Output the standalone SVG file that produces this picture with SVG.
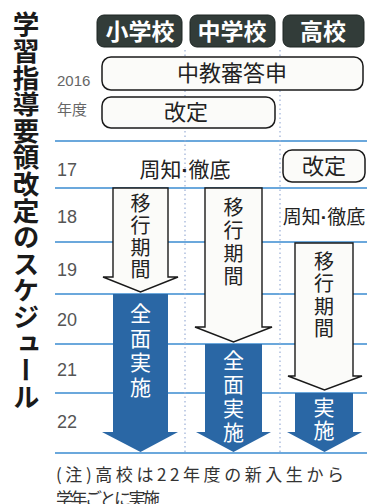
<svg xmlns="http://www.w3.org/2000/svg" width="367" height="504" viewBox="0 0 367 504">
<style>
text{font-family:"Noto Sans CJK JP","Noto Sans",sans-serif}
.v{writing-mode:vertical-rl}
.title{font-size:26.6px;font-weight:bold;fill:#1a1a1a}
.hdr rect{fill:#323c39;stroke:#1c2422;stroke-width:1}
.hdr text{fill:#fff;font-size:23px;font-weight:bold;text-anchor:middle}
.box rect{fill:#fbfbf9;stroke:#1a1a1a;stroke-width:1.5}
.box text{fill:#222;font-size:22px;text-anchor:middle}
.yr{font-family:"Liberation Sans",sans-serif;font-size:18px;fill:#555}
.small{font-size:15px;fill:#666}
.grid line{stroke:#3a8bd0;stroke-width:1.6}
.dot{stroke:#9aaed6;stroke-width:1.2;stroke-dasharray:1.5 3}
.hollow path{fill:#fbfbf9;stroke:#1a1a1a;stroke-width:1.4;stroke-linejoin:miter}
.hollow text{fill:#222;font-size:20px}
.solid path{fill:#2a67a5}
.solid text{fill:#fff;font-size:21px}
.lbl{fill:#222;text-anchor:middle}
.md{font-family:"Liberation Sans",sans-serif;font-weight:bold}
.note{fill:#333;font-size:17px}
</style>
<rect width="367" height="504" fill="#fff"/>
<text class="title v" x="26" y="11">学習指導要領改定のスケジュール</text>

<g id="grid" class="grid">
<line x1="55" y1="141" x2="367" y2="141"/>
<line x1="55" y1="188" x2="367" y2="188"/>
<line x1="55" y1="242" x2="367" y2="242"/>
<line x1="55" y1="294" x2="367" y2="294"/>
<line x1="55" y1="344" x2="367" y2="344"/>
<line x1="55" y1="393" x2="367" y2="393"/>
<line x1="55" y1="453" x2="367" y2="453"/>
</g>
<line class="dot" x1="185" y1="50" x2="185" y2="453"/>
<line class="dot" x1="280" y1="50" x2="280" y2="453"/>

<g id="hdr-elem" class="hdr"><rect x="97" y="15" width="85" height="32" rx="7"/><text x="140" y="40">小学校</text></g>
<g id="hdr-jh" class="hdr"><rect x="190" y="15" width="85" height="32" rx="7"/><text x="232" y="40">中学校</text></g>
<g id="hdr-hs" class="hdr"><rect x="283" y="15" width="81" height="32" rx="7"/><text x="323" y="40">高校</text></g>

<text class="yr small" x="57" y="86">2016</text>
<text class="small" x="57" y="115" font-size="15">年度</text>
<text class="yr" x="57" y="176">17</text>
<text class="yr" x="57" y="223">18</text>
<text class="yr" x="57" y="276">19</text>
<text class="yr" x="57" y="326">20</text>
<text class="yr" x="57" y="376">21</text>
<text class="yr" x="57" y="428">22</text>

<g id="chukyoshin" class="box"><rect x="102" y="57" width="261" height="33" rx="9"/><text x="232" y="81">中教審答申</text></g>
<g id="kaitei1" class="box"><rect x="102" y="97" width="173" height="31" rx="9"/><text x="186" y="120">改定</text></g>
<g id="kaitei2" class="box"><rect x="283" y="150" width="82" height="32" rx="9"/><text x="324" y="174">改定</text></g>

<g id="shuchi1"><text class="lbl" x="185" y="177" font-size="21">周知<tspan class="md">·</tspan>徹底</text></g>
<g id="shuchi2"><text class="lbl" x="324" y="224" font-size="19">周知<tspan class="md">·</tspan>徹底</text></g>

<g id="connectors">
<g id="ikou1" class="hollow">
<path d="M113,188H168V277H178L140.5,292L103,277H113Z"/>
<text class="v" x="140.5" y="193" letter-spacing="2.3">移行期間</text>
</g>
<g id="ikou2" class="hollow">
<path d="M205,188H262V327H272L233.5,342L195,327H205Z"/>
<text class="v" x="233.5" y="197" letter-spacing="3">移行期間</text>
</g>
<g id="ikou3" class="hollow">
<path d="M295,243H353V376H362L324.5,390L288,376H295Z"/>
<text class="v" x="324" y="251" letter-spacing="2.5">移行期間</text>
</g>
<g id="zenmen1" class="solid">
<path d="M113,294H168V432H178L140.5,452L102,432H113Z"/>
<text class="v" x="140.5" y="302.5" letter-spacing="3.7">全面実施</text>
</g>
<g id="zenmen2" class="solid">
<path d="M205,344H262V432H271L233.5,452L196,432H205Z"/>
<text class="v" x="233.5" y="349.5" letter-spacing="3">全面実施</text>
</g>
<g id="zenmen3" class="solid">
<path d="M295,393H353V432H362L324.5,452L287,432H295Z"/>
<text class="v" x="324" y="396.5" letter-spacing="2">実施</text>
</g>
</g>

<text class="note" x="56" y="481" textLength="288">(注)高校は22年度の新入生から</text>
<text class="note" x="56" y="505" textLength="104">学年ごとに実施</text>
</svg>
